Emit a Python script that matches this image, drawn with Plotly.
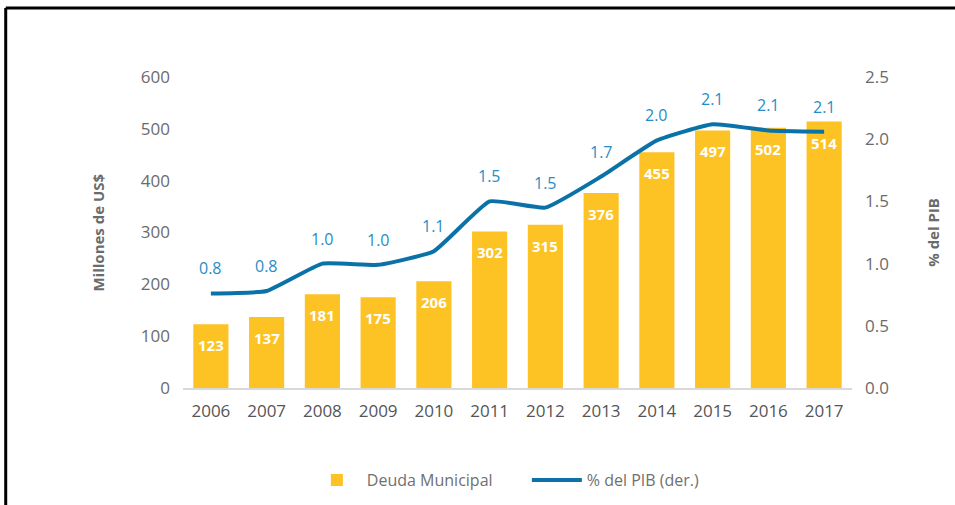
import plotly.graph_objects as go

years = ["2006", "2007", "2008", "2009", "2010", "2011", "2012", "2013", "2014", "2015", "2016", "2017"]
deuda = [123, 137, 181, 175, 206, 302, 315, 376, 455, 497, 502, 514]
pib = [0.76, 0.78, 1.00, 0.99, 1.10, 1.50, 1.45, 1.70, 1.99, 2.12, 2.07, 2.06]
pib_labels = ["0.8", "0.8", "1.0", "1.0", "1.1", "1.5", "1.5", "1.7", "2.0", "2.1", "2.1", "2.1"]

BAR = "#FDC224"
LINE = "#0B72A8"
LBL = "#2A8CC4"
GRAY = "#6B6B6B"
FONT = "Open Sans"

fig = go.Figure()
fig.add_trace(go.Bar(x=years, y=deuda, name="Deuda Municipal", marker_color=BAR,
                     marker_line_width=0))
fig.add_trace(go.Scatter(x=years, y=pib, name="% del PIB (der.)", yaxis="y2", mode="lines",
                         line=dict(color=LINE, width=4, shape="spline", smoothing=0.4)))

annotations = []
for i, v in enumerate(deuda):
    annotations.append(dict(x=i, y=v, xref="x", yref="y", text="<b>%d</b>" % v, showarrow=False,
                            yshift=-21, font=dict(family=FONT, size=15, color="white")))
for i, (v, t) in enumerate(zip(pib, pib_labels)):
    annotations.append(dict(x=i, y=v, xref="x", yref="y2", text=t, showarrow=False,
                            yshift=25, font=dict(family=FONT, size=16, color=LBL)))
annotations.append(dict(x=-0.1285, y=0.5, xref="paper", yref="paper", text="<b>Millones de US$</b>",
                        textangle=-90, showarrow=False, xanchor="center", yanchor="middle",
                        font=dict(family=FONT, size=15, color=GRAY)))
annotations.append(dict(x=1.12, y=0.5, xref="paper", yref="paper", text="<b>% del PIB</b>",
                        textangle=-90, showarrow=False, xanchor="center", yanchor="middle",
                        font=dict(family=FONT, size=15, color=GRAY)))

fig.update_layout(
    width=955, height=505,
    margin=dict(l=183, r=103, t=77, b=117, autoexpand=False),
    paper_bgcolor="white", plot_bgcolor="white",
    bargap=0.37,
    font=dict(family=FONT, color=GRAY),
    xaxis=dict(type="category", range=[-0.5, len(years) - 0.5], showgrid=False, showline=True,
               linecolor="#D9D9D9", linewidth=2,
               ticks="", tickfont=dict(family=FONT, size=17, color="#555555"),
               ticklabelstandoff=7),
    yaxis=dict(range=[0, 600], dtick=100, showgrid=False, zeroline=False, ticks="",
               tickfont=dict(family=FONT, size=17, color=GRAY), ticklabelstandoff=12),
    yaxis2=dict(range=[0, 2.5], dtick=0.5, tickformat=".1f", overlaying="y", side="right",
                showgrid=False, zeroline=False, ticks="",
                tickfont=dict(family=FONT, size=17, color=GRAY), ticklabelstandoff=12),
    legend=dict(orientation="h", x=0.514, xanchor="center", y=-0.296, yanchor="middle",
                font=dict(family=FONT, size=16, color="#707070"), itemwidth=50,
                entrywidth=155, entrywidthmode="pixels", traceorder="normal"),
    annotations=annotations,
    shapes=[
        dict(type="line", xref="paper", yref="paper", x0=-0.265, x1=1.2, y0=1.222, y1=1.222,
             line=dict(color="black", width=3)),
        dict(type="line", xref="paper", yref="paper", x0=-0.265, x1=-0.265, y0=1.222, y1=-0.4,
             line=dict(color="black", width=3)),
    ],
)

fig.write_html("out.html", config={"displayModeBar": False},
               post_script="document.body.style.margin='0px';")
